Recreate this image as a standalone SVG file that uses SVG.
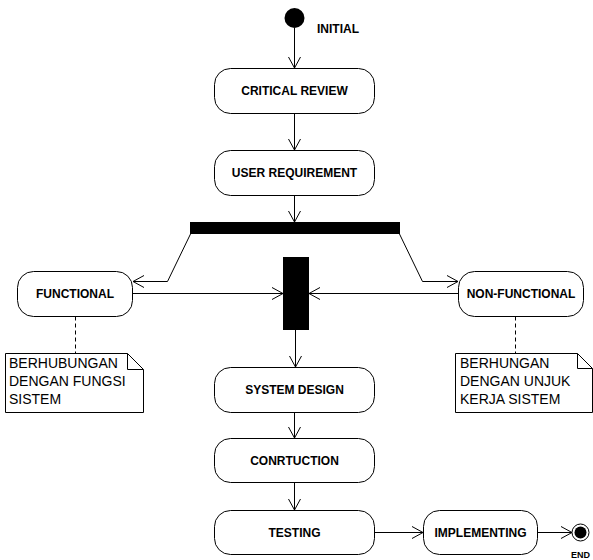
<svg xmlns="http://www.w3.org/2000/svg" width="593" height="560" viewBox="0 0 593 560">
<style>
.node{fill:#fff;stroke:#000;stroke-width:1}
.lbl{font-family:"Liberation Sans",Arial,sans-serif;font-weight:bold;font-size:12px;text-anchor:middle;fill:#000}
.note{fill:#fff;stroke:#000;stroke-width:1}
.ntxt{font-family:"Liberation Sans",Arial,sans-serif;font-size:14px;fill:#000}
.edge{fill:none;stroke:#000;stroke-width:1}
.dash{fill:none;stroke:#000;stroke-width:1;stroke-dasharray:4,3}
</style>
<defs>
<marker id="arr" markerWidth="14" markerHeight="14" refX="12" refY="7" orient="auto" markerUnits="userSpaceOnUse">
<path d="M1,1 L12,7 L1,13" fill="none" stroke="#000" stroke-width="1"/>
</marker>
</defs>
<rect width="593" height="560" fill="#fff"/>
<g id="initial">
<circle cx="294.5" cy="18" r="10" fill="#000"/>
<text x="317" y="33" class="lbl" style="text-anchor:start;font-size:12px">INITIAL</text>
</g>
<g id="critical-review">
<rect x="214.5" y="68.5" width="160" height="45" rx="16" class="node"/>
<text x="294.5" y="95" class="lbl">CRITICAL REVIEW</text>
</g>
<g id="user-requirement">
<rect x="214.5" y="150.5" width="160" height="45" rx="16" class="node"/>
<text x="294.5" y="177" class="lbl">USER REQUIREMENT</text>
</g>
<g id="fork">
<rect x="190" y="222" width="210" height="12" fill="#000"/>
</g>
<g id="join">
<rect x="283" y="257" width="26" height="73" fill="#000"/>
</g>
<g id="functional">
<rect x="17.5" y="271.5" width="115" height="45" rx="16" class="node"/>
<text x="75" y="298" class="lbl">FUNCTIONAL</text>
</g>
<g id="non-functional">
<rect x="458.5" y="271.5" width="125" height="45" rx="16" class="node"/>
<text x="521" y="298" class="lbl">NON-FUNCTIONAL</text>
</g>
<g id="note-functional">
<path d="M5.5,353.5 L127.5,353.5 L143.5,369.5 L143.5,412.5 L5.5,412.5 Z" class="note"/>
<path d="M127.5,353.5 L127.5,369.5 L143.5,369.5" class="edge"/>
<text class="ntxt"><tspan x="9" y="368">BERHUBUNGAN</tspan><tspan x="9" y="386">DENGAN FUNGSI</tspan><tspan x="9" y="404">SISTEM</tspan></text>
</g>
<g id="note-non-functional">
<path d="M455.5,353.5 L577.5,353.5 L592.5,368.5 L592.5,412.5 L455.5,412.5 Z" class="note"/>
<path d="M577.5,353.5 L577.5,368.5 L592.5,368.5" class="edge"/>
<text class="ntxt"><tspan x="460" y="368">BERHUNGAN</tspan><tspan x="460" y="386">DENGAN UNJUK</tspan><tspan x="460" y="404">KERJA SISTEM</tspan></text>
</g>
<g id="system-design">
<rect x="214.5" y="367.5" width="160" height="45" rx="16" class="node"/>
<text x="294.5" y="394" class="lbl">SYSTEM DESIGN</text>
</g>
<g id="conrtuction">
<rect x="214.5" y="438.5" width="160" height="44" rx="16" class="node"/>
<text x="294.5" y="465" class="lbl">CONRTUCTION</text>
</g>
<g id="testing">
<rect x="214.5" y="510.5" width="160" height="44" rx="16" class="node"/>
<text x="294.5" y="537" class="lbl">TESTING</text>
</g>
<g id="implementing">
<rect x="423.5" y="510.5" width="114" height="44" rx="16" class="node"/>
<text x="480.5" y="537" class="lbl">IMPLEMENTING</text>
</g>
<g id="end">
<circle cx="580.5" cy="532.5" r="8.5" fill="#fff" stroke="#000" stroke-width="1"/>
<circle cx="580.5" cy="532.5" r="6" fill="#000"/>
<text x="571" y="558" class="lbl" style="text-anchor:start;font-size:9px">END</text>
</g>
<g id="connectors">
<path d="M294.5,28 L294.5,68" class="edge" marker-end="url(#arr)"/>
<path d="M294.5,113.5 L294.5,150" class="edge" marker-end="url(#arr)"/>
<path d="M294.5,195.5 L294.5,222" class="edge" marker-end="url(#arr)"/>
<path d="M190.5,234 L167.5,281.5 L133,281.5" class="edge" marker-end="url(#arr)"/>
<path d="M399.5,234 L422.5,281.5 L458,281.5" class="edge" marker-end="url(#arr)"/>
<path d="M132.5,293.5 L283,293.5" class="edge" marker-end="url(#arr)"/>
<path d="M458.5,293.5 L309,293.5" class="edge" marker-end="url(#arr)"/>
<path d="M75.5,316.5 L75.5,353" class="dash"/>
<path d="M515.5,316.5 L515.5,353" class="dash"/>
<path d="M295.5,330 L295.5,367" class="edge" marker-end="url(#arr)"/>
<path d="M294.5,412.5 L294.5,438" class="edge" marker-end="url(#arr)"/>
<path d="M294.5,482.5 L294.5,510" class="edge" marker-end="url(#arr)"/>
<path d="M374.5,532.5 L423,532.5" class="edge" marker-end="url(#arr)"/>
<path d="M537.5,532.5 L572,532.5" class="edge" marker-end="url(#arr)"/>
</g>
</svg>
